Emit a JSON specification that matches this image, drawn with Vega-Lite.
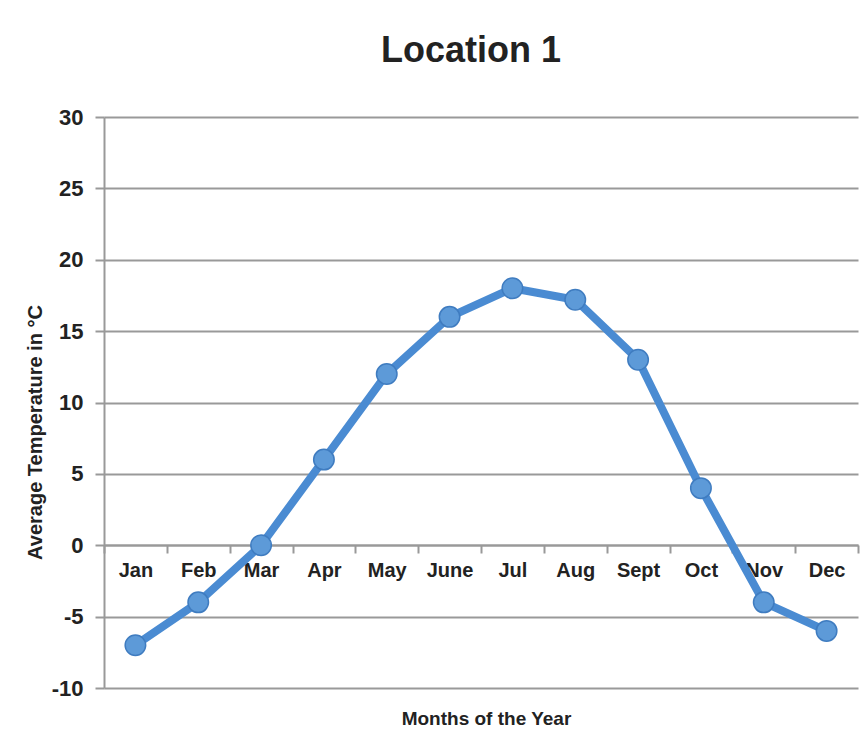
{
  "$schema": "https://vega.github.io/schema/vega-lite/v6.json",
  "width": 754,
  "height": 571,
  "autosize": {"type": "none"},
  "padding": {"left": 104, "top": 117, "right": 10, "bottom": 67},
  "background": "white",
  "title": {
    "text": "Location 1",
    "font": "Liberation Sans",
    "fontSize": 36,
    "fontWeight": "bold",
    "color": "#222222",
    "anchor": "middle",
    "dx": -10,
    "offset": 36
  },
  "data": {
    "values": [
      {"month": "Jan", "temp": -7},
      {"month": "Feb", "temp": -4},
      {"month": "Mar", "temp": 0},
      {"month": "Apr", "temp": 6},
      {"month": "May", "temp": 12},
      {"month": "June", "temp": 16},
      {"month": "Jul", "temp": 18},
      {"month": "Aug", "temp": 17.2},
      {"month": "Sept", "temp": 13},
      {"month": "Oct", "temp": 4},
      {"month": "Nov", "temp": -4},
      {"month": "Dec", "temp": -6}
    ]
  },
  "encoding": {
    "x": {
      "field": "month",
      "type": "nominal",
      "sort": null,
      "scale": {"paddingInner": 0, "paddingOuter": 0},
      "axis": {
        "title": "Months of the Year",
        "orient": "bottom",
        "offset": -143,
        "labelAngle": 0,
        "tickBand": "extent",
        "tickSize": 8,
        "tickWidth": 2,
        "tickColor": "#999999",
        "domainColor": "#999999",
        "domainWidth": 2,
        "labelFont": "Liberation Sans",
        "labelFontSize": 20,
        "labelFontWeight": "bold",
        "labelColor": "#222222",
        "labelPadding": 7,
        "titleFont": "Liberation Sans",
        "titleFontSize": 19,
        "titleFontWeight": "bold",
        "titleColor": "#222222",
        "titleX": 382,
        "titleY": 173,
        "titleAlign": "center",
        "titleBaseline": "middle",
        "grid": false
      }
    },
    "y": {
      "field": "temp",
      "type": "quantitative",
      "scale": {"domain": [-10, 30], "nice": false, "zero": false},
      "axis": {
        "title": "Average Temperature in °C",
        "values": [-10, -5, 0, 5, 10, 15, 20, 25, 30],
        "labelExpr": "datum.value + ''",
        "grid": true,
        "gridColor": "#999999",
        "gridWidth": 2,
        "tickSize": 9,
        "tickWidth": 2,
        "tickColor": "#999999",
        "domainColor": "#999999",
        "domainWidth": 2,
        "labelFont": "Liberation Sans",
        "labelFontSize": 22,
        "labelFontWeight": "bold",
        "labelColor": "#222222",
        "labelPadding": 12,
        "titleFont": "Liberation Sans",
        "titleFontSize": 20,
        "titleFontWeight": "bold",
        "titleColor": "#222222",
        "titleX": -69,
        "titleY": 315,
        "titleAlign": "center",
        "titleBaseline": "middle",
        "titleAngle": -90
      }
    }
  },
  "layer": [
    {
      "mark": {"type": "line", "interpolate": "linear", "color": "#4a8bd2", "strokeWidth": 8, "strokeCap": "round", "strokeJoin": "round"}
    },
    {
      "mark": {"type": "point", "shape": "circle", "filled": true, "size": 420, "fill": "#5d9ad8", "stroke": "#3f7cc0", "strokeWidth": 1.5, "opacity": 1}
    }
  ],
  "config": {
    "view": {"stroke": null}
  }
}
